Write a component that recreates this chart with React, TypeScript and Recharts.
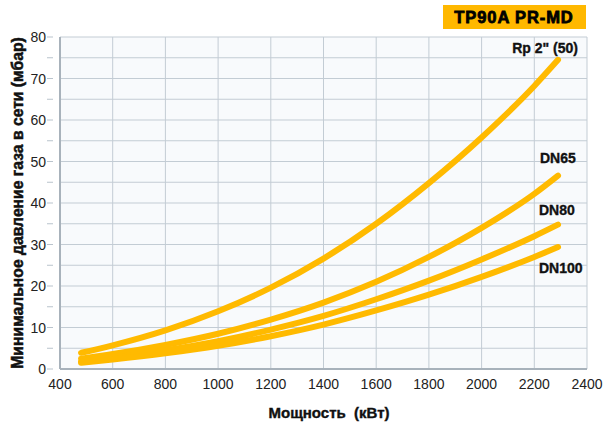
import React from "react";
import { LineChart, Line, XAxis, YAxis, CartesianGrid } from "recharts";

const xTicks = [400, 600, 800, 1000, 1200, 1400, 1600, 1800, 2000, 2200, 2400];
const yTicks = [0, 5, 10, 15, 20, 25, 30, 35, 40, 45, 50, 55, 60, 65, 70, 75, 80];
const powerKW = [480, 600, 800, 1000, 1200, 1400, 1600, 1800, 2000, 2200, 2290];
const rp2 = [3.9, 5.7, 9.3, 13.9, 19.6, 26.6, 35.0, 44.8, 55.8, 68.2, 74.5];
const dn65 = [2.5, 3.6, 5.8, 8.5, 11.9, 16.0, 21.0, 27.0, 34.0, 42.2, 46.6];
const dn80 = [1.8, 2.7, 4.5, 6.7, 9.5, 12.8, 16.8, 21.3, 26.4, 32.0, 34.8];
const dn100 = [1.5, 2.3, 3.8, 5.6, 7.9, 10.7, 14.1, 17.9, 22.2, 27.0, 29.4];
const seriesNames = ['Rp 2" (50)', "DN65", "DN80", "DN100"];

const toData = (vals: number[]) => powerKW.map((x, i) => ({ x, y: vals[i] }));
const series = [rp2, dn65, dn80, dn100].map((v, i) => ({ name: seriesNames[i], data: toData(v) }));

const labelOffsets = [
  { dx: 20, dy: -7, anchor: "end" },
  { dx: -18, dy: -13, anchor: "start" },
  { dx: -19, dy: -10, anchor: "start" },
  { dx: -19, dy: 26, anchor: "start" },
];

const FONT = "'Liberation Sans', Arial, Helvetica, sans-serif";
const LINE = "#FFBA00";

const YTick = (props: any) => {
  const { x, y, payload } = props;
  const v = payload.value;
  return (
    <g>
      <line x1={x - 5} x2={x + 1} y1={y} y2={y} stroke="#b9c3cc" strokeWidth={1} />
      {v % 10 === 0 && (
        <text x={x - 6} y={y} dy={5} textAnchor="end" fontSize={14} fill="#222" fontFamily={FONT}>
          {v}
        </text>
      )}
    </g>
  );
};

export default function App() {
  return (
    <div style={{ position: "absolute", left: 0, top: 0, width: 605, height: 424, background: "#fff" }}>
      <LineChart width={605} height={424} margin={{ top: 37, right: 18, bottom: 0, left: 0 }}>
        <CartesianGrid
          stroke="#c3ccd4"
          strokeWidth={1}
          fill="#f8fafc"
          horizontalValues={yTicks}
          verticalValues={xTicks}
        />
        <XAxis
          type="number"
          dataKey="x"
          domain={[400, 2400]}
          ticks={xTicks}
          allowDataOverflow
          axisLine={{ stroke: "#a8b2bb", strokeWidth: 2 }}
          tickLine={false}
          tick={{ fontSize: 14, fill: "#222", fontFamily: FONT }}
          tickMargin={4}
          height={55}
        />
        <YAxis
          type="number"
          domain={[0, 80]}
          ticks={yTicks}
          interval={0}
          axisLine={{ stroke: "#a8b2bb", strokeWidth: 2 }}
          tickLine={false}
          tick={<YTick />}
          width={60}
        />
        {series.map((s, si) => (
          <Line
            key={s.name}
            data={s.data}
            dataKey="y"
            type="monotone"
            stroke={LINE}
            strokeWidth={6}
            strokeLinecap="round"
            dot={false}
            isAnimationActive={false}
            label={(p: any) =>
              p.index === s.data.length - 1 ? (
                <text
                  key={`lab-${si}`}
                  x={p.x + labelOffsets[si].dx}
                  y={p.y + labelOffsets[si].dy}
                  textAnchor={labelOffsets[si].anchor as any}
                  fontSize={14}
                  fontWeight="bold"
                  fill="#111"
                  stroke="#111"
                  strokeWidth={0.35}
                  fontFamily={FONT}
                >
                  {s.name}
                </text>
              ) : (
                <g key={`lab-${si}-${p.index}`} />
              )
            }
          />
        ))}
        <text
          x={17.5}
          y={203}
          transform="rotate(-90 17.5 203)"
          textAnchor="middle"
          dominantBaseline="central"
          fontSize={15.7}
          fontWeight="bold"
          fill="#111"
          stroke="#111"
          strokeWidth={0.5}
          fontFamily={FONT}
        >
          Минимальное давление газа в сети (мбар)
        </text>
        <text
          x={329}
          y={418}
          textAnchor="middle"
          fontSize={15}
          fontWeight="bold"
          fill="#111"
          stroke="#111"
          strokeWidth={0.4}
          fontFamily={FONT}
        >
          {"Мощность\u00a0\u00a0(кВт)"}
        </text>
        <rect x={443} y={5} width={143} height={24} fill="#FFB800" />
        <text
          x={514}
          y={23}
          textAnchor="middle"
          fontSize={16.5}
          fontWeight="bold"
          letterSpacing={0.9}
          fill="#000"
          stroke="#000"
          strokeWidth={0.8}
          fontFamily={FONT}
        >
          TP90A PR-MD
        </text>
      </LineChart>
    </div>
  );
}
